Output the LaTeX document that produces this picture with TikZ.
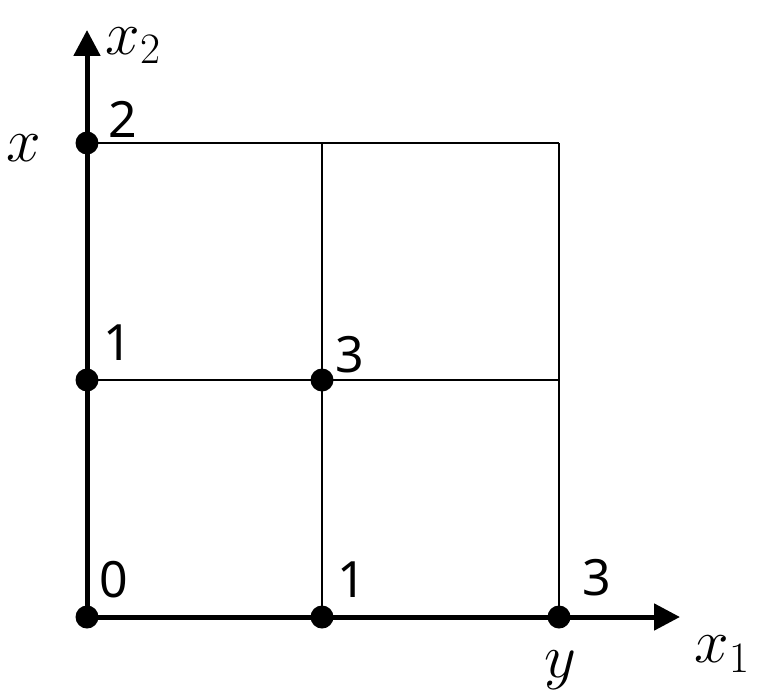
\RequirePackage{fix-cm}
\documentclass[tikz,border=0pt]{standalone}
\usepackage{fontspec}
\setmainfont{Noto Sans}
\usetikzlibrary{arrows.meta}
\tikzset{
  axis/.style={line width=5pt,-{Triangle[length=26pt,width=26pt]}},
  grid line/.style={line width=1.5pt},
  dot/.style={circle,fill=black,inner sep=0pt,minimum size=23pt},
  num/.style={inner sep=0pt,font=\fontsize{50}{56}\selectfont},
  mlab/.style={inner sep=0pt,font=\fontsize{62}{68}\selectfont}
}
\begin{document}
\begin{tikzpicture}[x=1pt,y=-1pt]
\useasboundingbox (0,0) rectangle (762,698);
% grid points
\coordinate (o) at (87,617);
\coordinate (xend) at (680,617);
\coordinate (yend) at (87,30);
\coordinate (a) at (322,617);
\coordinate (b) at (559,617);
\coordinate (c) at (87,380);
\coordinate (d) at (87,143);
\coordinate (e) at (322,380);
\coordinate (f) at (559,380);
\coordinate (g) at (322,143);
\coordinate (h) at (559,143);
% grid lines
\draw[grid line] (d) -- (h);
\draw[grid line] (c) -- (f);
\draw[grid line] (a) -- (g);
\draw[grid line] (b) -- (h);
% axes
\draw[axis] (o) -- (xend);
\draw[axis] (o) -- (yend);
% dots
\node[dot] (p0) at (o) {};
\node[dot] (p1) at (a) {};
\node[dot] (p3) at (b) {};
\node[dot] (q1) at (c) {};
\node[dot] (q2) at (d) {};
\node[dot] (r3) at (e) {};
% numbers
\node[num] (l0) at (114,580) {0};
\node[num] (l1) at (352,580) {1};
\node[num] (l3) at (597,578) {3};
\node[num] (m1) at (118,343) {1};
\node[num] (m3) at (350,355) {3};
\node[num] (m2) at (123,119) {2};
% math labels
\node[mlab] (lx2) at (133,46) {$x_{\scriptstyle 2}$};
\node[mlab] (lx) at (24,148) {$x$};
\node[mlab] (ly) at (560,670) {$y$};
\node[mlab] (lx1) at (722,654) {$x_{\scriptstyle 1}$};
\end{tikzpicture}
\end{document}
